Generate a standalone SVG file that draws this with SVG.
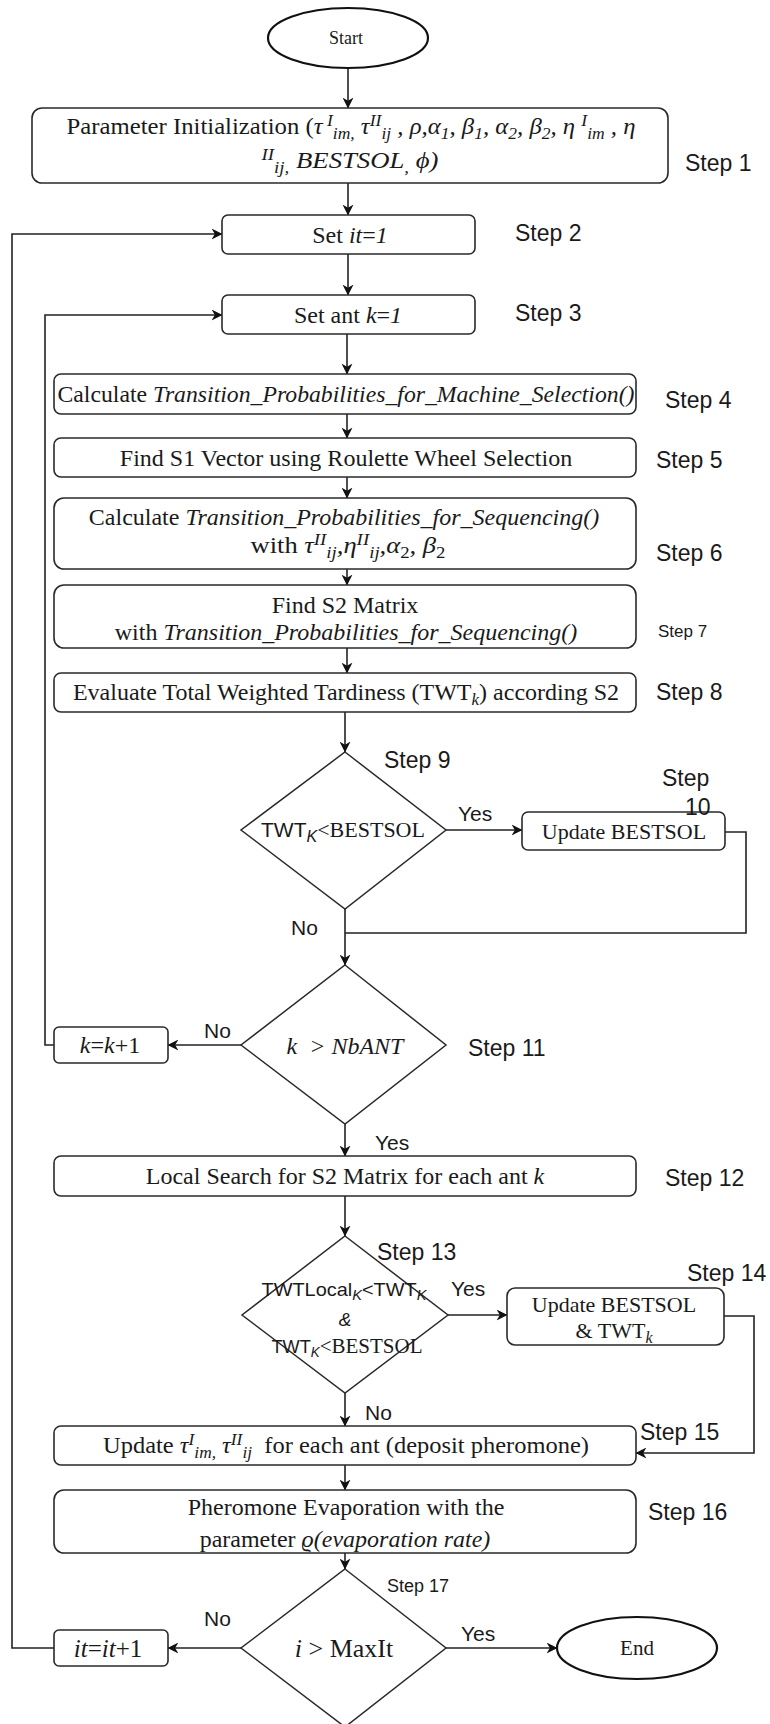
<svg xmlns="http://www.w3.org/2000/svg" width="770" height="1724" viewBox="0 0 770 1724">
<style>
.bx{fill:#fff;stroke:#2a2a2a;stroke-width:1.6}
.ov{fill:#fff;stroke:#111;stroke-width:2.2}
.dm{fill:#fff;stroke:#2a2a2a;stroke-width:1.5}
.c{fill:none;stroke:#222;stroke-width:1.6}
.s{font-family:"Liberation Serif","Times New Roman",serif;font-size:24px;fill:#1a1a1a}
.s2{font-family:"Liberation Serif","Times New Roman",serif;font-size:22px;fill:#1a1a1a}
.a{font-family:"Liberation Sans",Arial,sans-serif;font-size:23px;fill:#1a1a1a}
.sf{font-family:"Liberation Sans",Arial,sans-serif}
.lb{font-family:"Liberation Sans",Arial,sans-serif;font-size:21px;fill:#1a1a1a}
.sm{font-size:17px}
.i{font-style:italic}
.m{text-anchor:middle}
</style>
<defs>
<marker id="ar" viewBox="0 0 10 10" refX="9.5" refY="5" markerWidth="11" markerHeight="11" markerUnits="userSpaceOnUse" orient="auto">
<path d="M0,0 L10,5 L0,10 L3,5 Z" fill="#111"/>
</marker>
</defs>
<rect width="770" height="1724" fill="#fff"/>

<g id="connectors">
<path class="c" d="M348,68 V108" marker-end="url(#ar)"/>
<path class="c" d="M348,183 V215" marker-end="url(#ar)"/>
<path class="c" d="M348,254 V295" marker-end="url(#ar)"/>
<path class="c" d="M347,334 V374" marker-end="url(#ar)"/>
<path class="c" d="M347,414 V438" marker-end="url(#ar)"/>
<path class="c" d="M347,477 V498" marker-end="url(#ar)"/>
<path class="c" d="M347,569 V585" marker-end="url(#ar)"/>
<path class="c" d="M347,648 V673" marker-end="url(#ar)"/>
<path class="c" d="M345,712 V752" marker-end="url(#ar)"/>
<path class="c" d="M446,830 H522" marker-end="url(#ar)"/>
<path class="c" d="M725,832 H746 V933 H345"/>
<path class="c" d="M345,909 V965" marker-end="url(#ar)"/>
<path class="c" d="M241,1045 H168" marker-end="url(#ar)"/>
<path class="c" d="M54,1045 H45 V315 H222" marker-end="url(#ar)"/>
<path class="c" d="M345,1124 V1156" marker-end="url(#ar)"/>
<path class="c" d="M345,1196 V1236" marker-end="url(#ar)"/>
<path class="c" d="M448,1315 H507" marker-end="url(#ar)"/>
<path class="c" d="M724,1316 H754 V1453 H636" marker-end="url(#ar)"/>
<path class="c" d="M345,1393 V1426" marker-end="url(#ar)"/>
<path class="c" d="M345,1465 V1490" marker-end="url(#ar)"/>
<path class="c" d="M345,1553 V1569" marker-end="url(#ar)"/>
<path class="c" d="M241,1648 H168" marker-end="url(#ar)"/>
<path class="c" d="M54,1648 H12 V234 H222" marker-end="url(#ar)"/>
<path class="c" d="M446,1648 H557" marker-end="url(#ar)"/>
<text class="lb" x="458" y="821">Yes</text>
<text class="lb" x="291" y="935">No</text>
<text class="lb" x="204" y="1038">No</text>
<text class="lb" x="375" y="1150">Yes</text>
<text class="lb" x="451" y="1296">Yes</text>
<text class="lb" x="365" y="1420">No</text>
<text class="lb" x="204" y="1626">No</text>
<text class="lb" x="461" y="1641">Yes</text>
</g>

<g id="start">
<ellipse class="ov" cx="348" cy="38" rx="80" ry="30"/>
<text class="s m" x="346" y="44" style="font-size:18px">Start</text>
</g>

<g id="step1">
<rect class="bx" x="32" y="108" width="636" height="75" rx="10"/>
<text class="s m" x="351" y="134" textLength="569" lengthAdjust="spacingAndGlyphs">Parameter Initialization (<tspan class="i">τ</tspan><tspan class="i sm" dy="-8"> I</tspan><tspan class="i sm" dy="13">im,</tspan><tspan class="i" dy="-5"> τ</tspan><tspan class="i sm" dy="-8">II</tspan><tspan class="i sm" dy="13">ij</tspan><tspan class="i" dy="-5"> , ρ,α</tspan><tspan class="i sm" dy="5">1</tspan><tspan class="i" dy="-5">, β</tspan><tspan class="i sm" dy="5">1</tspan><tspan class="i" dy="-5">, α</tspan><tspan class="i sm" dy="5">2</tspan><tspan class="i" dy="-5">, β</tspan><tspan class="i sm" dy="5">2</tspan><tspan class="i" dy="-5">, η </tspan><tspan class="i sm" dy="-8">I</tspan><tspan class="i sm" dy="13">im</tspan><tspan class="i" dy="-5"> , η</tspan></text>
<text class="s m" x="350" y="168" textLength="177" lengthAdjust="spacingAndGlyphs"><tspan class="i sm" dy="-8">II</tspan><tspan class="i sm" dy="13">ij,</tspan><tspan class="i" dy="-5"> BESTSOL</tspan><tspan class="i sm" dy="5">,</tspan><tspan class="i" dy="-5"> ϕ)</tspan></text>
<text class="a" x="685" y="171">Step 1</text>
</g>

<g id="step2">
<rect class="bx" x="222" y="215" width="253" height="39" rx="6"/>
<text class="s m" x="350" y="243">Set <tspan class="i">it</tspan>=<tspan class="i">1</tspan></text>
<text class="a" x="515" y="241">Step 2</text>
</g>

<g id="step3">
<rect class="bx" x="222" y="295" width="253" height="39" rx="6"/>
<text class="s m" x="348" y="323">Set ant <tspan class="i">k</tspan>=<tspan class="i">1</tspan></text>
<text class="a" x="515" y="321">Step 3</text>
</g>

<g id="step4">
<rect class="bx" x="54" y="374" width="582" height="40" rx="7"/>
<text class="s m" x="346" y="402" textLength="577" lengthAdjust="spacingAndGlyphs">Calculate <tspan class="i">Transition_Probabilities_for_Machine_Selection()</tspan></text>
<text class="a" x="665" y="408">Step 4</text>
</g>

<g id="step5">
<rect class="bx" x="54" y="438" width="582" height="39" rx="7"/>
<text class="s m" x="346" y="466">Find S1 Vector using Roulette Wheel Selection</text>
<text class="a" x="656" y="468">Step 5</text>
</g>

<g id="step6">
<rect class="bx" x="54" y="498" width="582" height="71" rx="10"/>
<text class="s m" x="344" y="525">Calculate <tspan class="i">Transition_Probabilities_for_Sequencing()</tspan></text>
<text class="s m" x="348" y="553" textLength="195" lengthAdjust="spacingAndGlyphs">with <tspan class="i">τ</tspan><tspan class="i sm" dy="-8">II</tspan><tspan class="i sm" dy="13">ij</tspan><tspan class="i" dy="-5">,η</tspan><tspan class="i sm" dy="-8">II</tspan><tspan class="i sm" dy="13">ij</tspan><tspan class="i" dy="-5">,α</tspan><tspan class="sm" dy="5">2</tspan><tspan class="i" dy="-5">, β</tspan><tspan class="sm" dy="5">2</tspan></text>
<text class="a" x="656" y="561">Step 6</text>
</g>

<g id="step7">
<rect class="bx" x="54" y="585" width="582" height="63" rx="10"/>
<text class="s m" x="345" y="613">Find S2 Matrix</text>
<text class="s m" x="346" y="640">with <tspan class="i">Transition_Probabilities_for_Sequencing()</tspan></text>
<text class="a" x="658" y="637" style="font-size:17px">Step 7</text>
</g>

<g id="step8">
<rect class="bx" x="54" y="673" width="582" height="39" rx="7"/>
<text class="s m" x="346" y="700">Evaluate Total Weighted Tardiness (TWT<tspan class="i sm" dy="5">k</tspan><tspan dy="-5">) according S2</tspan></text>
<text class="a" x="656" y="700">Step 8</text>
</g>

<g id="step9">
<polygon class="dm" points="345,752 446,830 345,909 241,830"/>
<text class="s2 m" x="343" y="837"><tspan class="sf" style="font-size:21px">TWT</tspan><tspan class="sf i" style="font-size:16px" dy="5">K</tspan><tspan dy="-5">&lt;BESTSOL</tspan></text>
<text class="a" x="384" y="768">Step 9</text>
</g>

<g id="step10">
<rect class="bx" x="522" y="812" width="203" height="38" rx="6"/>
<text class="s2 m" x="624" y="839">Update BESTSOL</text>
<text class="a" x="662" y="786">Step</text>
<text class="a" x="685" y="815">10</text>
</g>

<g id="step11">
<polygon class="dm" points="345,965 446,1045 345,1124 241,1045"/>
<text class="s m i" x="345" y="1054">k&#160; &gt; NbANT</text>
<text class="a" x="468" y="1056">Step 11</text>
</g>

<g id="incK">
<rect class="bx" x="54" y="1027" width="114" height="36" rx="5"/>
<text class="s m" x="110" y="1053"><tspan class="i">k</tspan>=<tspan class="i">k</tspan>+1</text>
</g>

<g id="step12">
<rect class="bx" x="54" y="1156" width="582" height="40" rx="7"/>
<text class="s m" x="345" y="1184">Local Search for S2 Matrix for each ant <tspan class="i">k</tspan></text>
<text class="a" x="665" y="1186">Step 12</text>
</g>

<g id="step13">
<polygon class="dm" points="345,1236 448,1315 345,1393 242,1315"/>
<text class="a m" x="344" y="1296" style="font-size:19px" textLength="165" lengthAdjust="spacingAndGlyphs">TWTLocal<tspan class="i" style="font-size:14px" dy="4">K</tspan><tspan dy="-4">&lt;TWT</tspan><tspan class="i" style="font-size:14px" dy="4">K</tspan></text>
<text class="a m i" x="345" y="1326" style="font-size:19px">&amp;</text>
<text class="s2 m" x="347" y="1353" textLength="151" lengthAdjust="spacingAndGlyphs"><tspan class="sf" style="font-size:19px">TWT</tspan><tspan class="sf i" style="font-size:14px" dy="4">K</tspan><tspan dy="-4">&lt;BESTSOL</tspan></text>
<text class="a" x="377" y="1260">Step 13</text>
</g>

<g id="step14">
<rect class="bx" x="507" y="1288" width="217" height="57" rx="8"/>
<text class="s2 m" x="614" y="1312">Update BESTSOL</text>
<text class="s2 m" x="614" y="1338">&amp; TWT<tspan class="i" style="font-size:16px" dy="5">k</tspan></text>
<text class="a" x="687" y="1281">Step 14</text>
</g>

<g id="step15">
<rect class="bx" x="54" y="1426" width="582" height="39" rx="7"/>
<text class="s m" x="346" y="1453" textLength="486" lengthAdjust="spacingAndGlyphs">Update <tspan class="i">τ</tspan><tspan class="i sm" dy="-8">I</tspan><tspan class="i sm" dy="13">im,</tspan><tspan class="i" dy="-5"> τ</tspan><tspan class="i sm" dy="-8">II</tspan><tspan class="i sm" dy="13">ij</tspan><tspan dy="-5">&#160; for each ant (deposit pheromone)</tspan></text>
<text class="a" x="640" y="1440">Step 15</text>
</g>

<g id="step16">
<rect class="bx" x="54" y="1490" width="582" height="63" rx="10"/>
<text class="s m" x="346" y="1515">Pheromone Evaporation with the</text>
<text class="s m" x="345" y="1547">parameter <tspan class="i">ϱ(evaporation rate)</tspan></text>
<text class="a" x="648" y="1520">Step 16</text>
</g>

<g id="step17">
<polygon class="dm" points="345,1569 446,1648 345,1727 241,1648"/>
<text class="s m" x="344" y="1657" style="font-size:26px"><tspan class="i">i</tspan> &gt; MaxIt</text>
<text class="a" x="387" y="1592" style="font-size:18px">Step 17</text>
</g>

<g id="incIt">
<rect class="bx" x="54" y="1630" width="114" height="36" rx="5"/>
<text class="s m" x="108" y="1657" style="font-size:25px"><tspan class="i">it</tspan>=<tspan class="i">it</tspan>+1</text>
</g>

<g id="end">
<ellipse class="ov" cx="637" cy="1648" rx="80" ry="31"/>
<text class="s m" x="637" y="1655" style="font-size:21px">End</text>
</g>
</svg>
